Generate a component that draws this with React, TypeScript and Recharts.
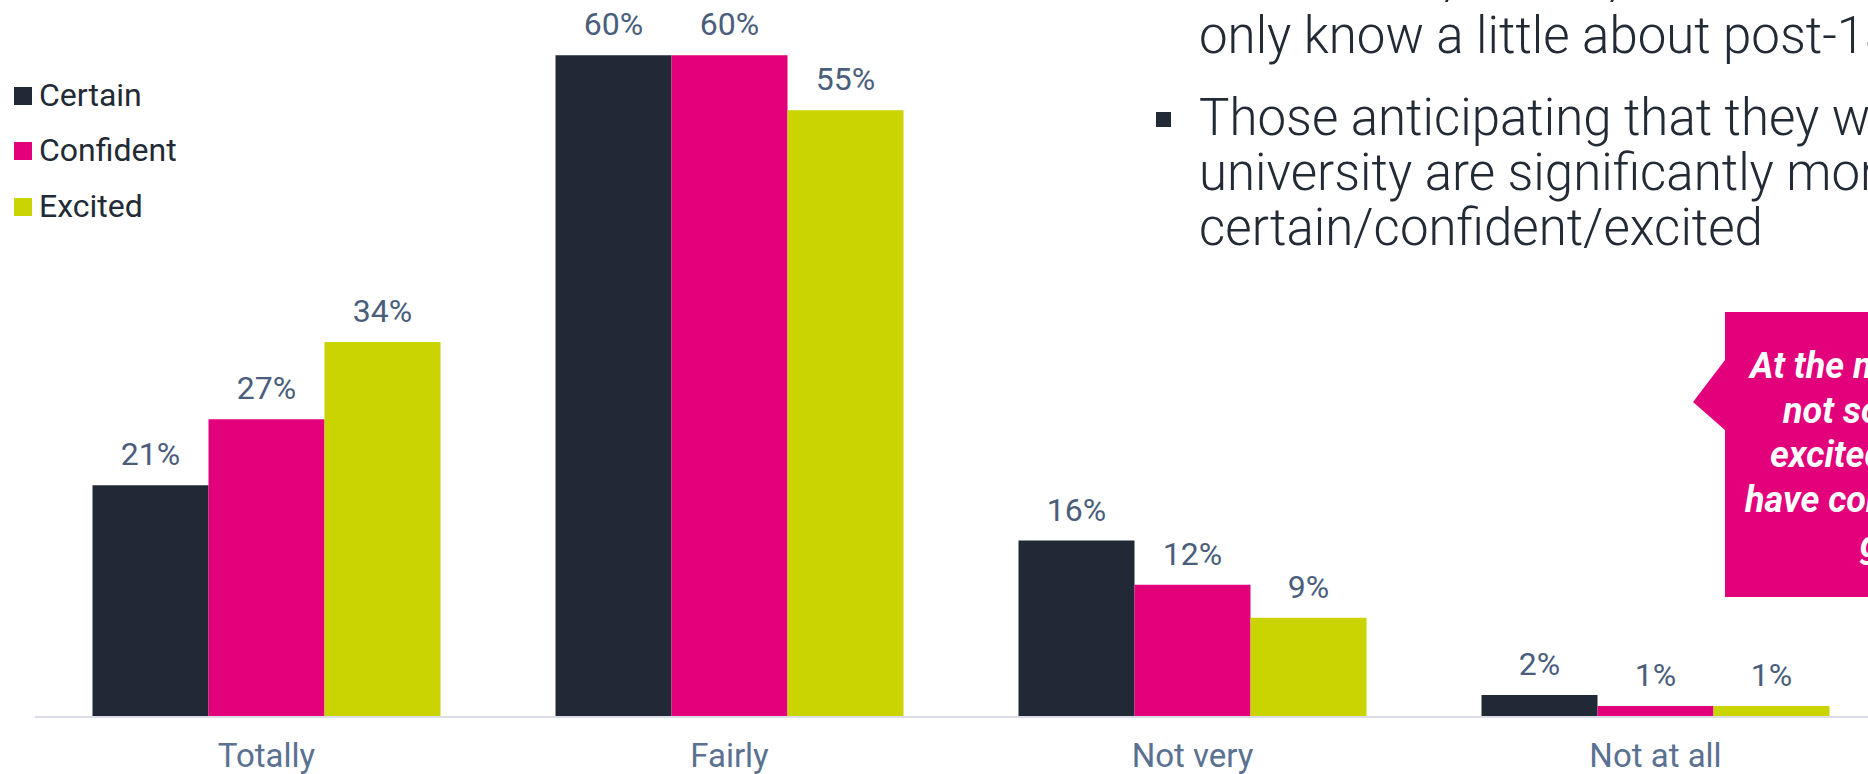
import { BarChart, Bar, XAxis, YAxis, LabelList, Legend } from 'recharts';

const categories = ['Totally', 'Fairly', 'Not very', 'Not at all'];
const certain = [21, 60, 16, 2];
const confident = [27, 60, 12, 1];
const excited = [34, 55, 9, 1];

const SERIES = [
  { key: 'certain', name: 'Certain', color: '#212936' },
  { key: 'confident', name: 'Confident', color: '#E3007B' },
  { key: 'excited', name: 'Excited', color: '#C9D400' },
];

const data = categories.map((name, i) => ({
  name,
  certain: certain[i],
  confident: confident[i],
  excited: excited[i],
}));

const bulletLines = [
  { text: 'those who / know /', y: -1 },
  { text: 'only know a little about post-18', y: 53 },
  { text: 'Those anticipating that they will go to', y: 135, bullet: true },
  { text: 'university are significantly more', y: 190 },
  { text: 'certain/confident/excited', y: 245 },
];

const calloutLines = [
  { text: 'At the moment,', x: 1750, y: 378 },
  { text: 'not so', x: 1783, y: 423 },
  { text: 'excited', x: 1770, y: 467 },
  { text: 'have concerns', x: 1745, y: 512 },
  { text: 'grades', x: 1860, y: 557 },
];

const FONT = 'Roboto, "Noto Sans", sans-serif';
const LIGHT = '"Roboto Light", Roboto, sans-serif';

function ValueLabel(props: any) {
  const { x, y, width, value } = props;
  return (
    <text x={x + width / 2} y={y - 20} textAnchor="middle" fill="#4a5e7c" fontSize={32} fontFamily={FONT}>
      {value}%
    </text>
  );
}

function CategoryTick({ x, y, payload }: any) {
  return (
    <text x={x} y={y + 50} textAnchor="middle" fill="#5a7191" fontSize={33} fontFamily={FONT}>
      {payload.value}
    </text>
  );
}

function LegendBox() {
  return (
    <div style={{ fontFamily: FONT }}>
      {SERIES.map(s => (
        <div key={s.key} style={{ display: 'flex', alignItems: 'center', height: 55.5, fontSize: 32, color: '#222a35' }}>
          <span style={{ width: 18, height: 18, background: s.color, marginRight: 7, marginTop: 2 }} />
          <span>{s.name}</span>
        </div>
      ))}
    </div>
  );
}

export default function App() {
  return (
    <div style={{ position: 'relative', width: 1868, height: 774, overflow: 'hidden', background: '#fff', fontFamily: FONT }}>
      <style>{'body{margin:0;overflow:hidden}'}</style>
      <BarChart
        width={1887}
        height={774}
        data={data}
        margin={{ top: 0, right: 0, left: 35, bottom: 0 }}
        barCategoryGap={57.5}
        barGap={0}
      >
        <XAxis
          dataKey="name"
          height={57}
          axisLine={{ stroke: '#dadde8', strokeWidth: 2 }}
          tickLine={false}
          tickSize={0}
          tickMargin={0}
          tick={<CategoryTick />}
          interval={0}
        />
        <YAxis hide domain={[0, 65]} />
        <Legend
          layout="vertical"
          align="center"
          verticalAlign="middle"
          wrapperStyle={{ left: 14, top: 67, width: 'auto' }}
          content={<LegendBox />}
        />
        {SERIES.map(s => (
          <Bar key={s.key} dataKey={s.key} name={s.name} fill={s.color} isAnimationActive={false}>
            <LabelList dataKey={s.key} content={<ValueLabel />} />
          </Bar>
        ))}
      </BarChart>

      <svg width={1868} height={774} style={{ position: 'absolute', left: 0, top: 0, pointerEvents: 'none' }}>
        {bulletLines.map((l, i) => (
          <g key={i}>
            {l.bullet && <rect x={1156} y={112} width={15} height={15} fill="#222a35" />}
            <text x={1199} y={l.y} fontSize={51} fontWeight={300} fill="#222a35" fontFamily={LIGHT}>
              {l.text}
            </text>
          </g>
        ))}
        <polygon points="1725,312 2000,312 2000,597 1725,597 1725,430 1693,402 1725,360" fill="#E3007B" />
        {calloutLines.map((l, i) => (
          <text key={i} x={l.x} y={l.y} fontSize={36} fontWeight={700} fontStyle="italic" fill="#fff" fontFamily={FONT}>
            {l.text}
          </text>
        ))}
      </svg>
    </div>
  );
}
